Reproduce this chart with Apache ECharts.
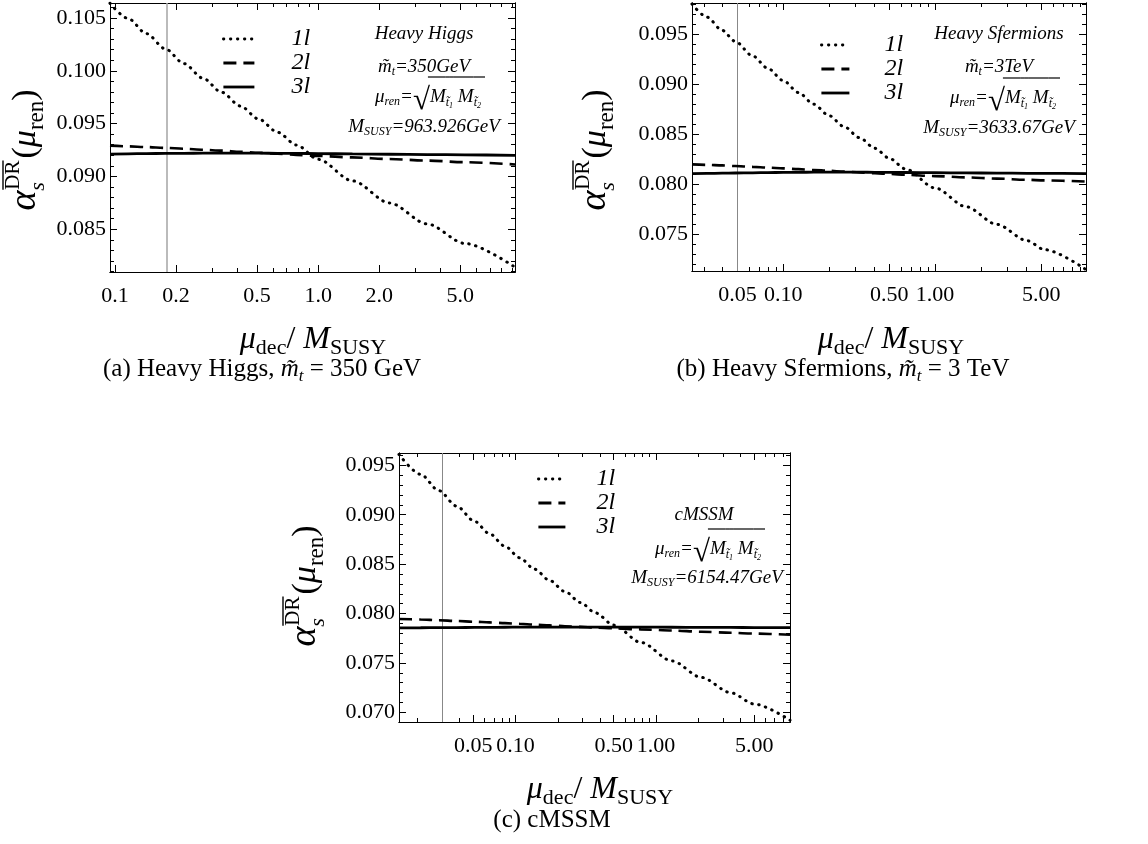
<!DOCTYPE html>
<html><head><meta charset="utf-8">
<script src="https://cdn.jsdelivr.net/npm/echarts@6/dist/echarts.min.js"></script>
<style>html,body{margin:0;padding:0;background:#fff}#c{width:1148px;height:844px}</style>
</head><body><div id="c"></div>
<script>
// ---------------- data ----------------
// (a) Heavy Higgs
const xA  = [0.0946, 0.116, 0.143, 0.177, 0.219, 0.271, 0.335, 0.414, 0.511, 0.632, 0.781, 1.0, 1.475, 2.25, 3.44, 5.26, 9.3];
const a1l = [0.1064, 0.10496, 0.10352, 0.10208, 0.10068, 0.0993, 0.09797, 0.09667, 0.09542, 0.09418, 0.09298, 0.09162, 0.08958, 0.08748, 0.0855, 0.08366, 0.0814];
const a2l = [0.09292, 0.09285, 0.09278, 0.0927, 0.09262, 0.09253, 0.09244, 0.09234, 0.09224, 0.09214, 0.09204, 0.09194, 0.0918, 0.09165, 0.0915, 0.09135, 0.09113];
const a3l = [0.09212, 0.09214, 0.09216, 0.09218, 0.09219, 0.0922, 0.0922, 0.0922, 0.0922, 0.09219, 0.09218, 0.09216, 0.09213, 0.0921, 0.09207, 0.09204, 0.092];
// (b) Heavy Sfermions
const xB  = [0.0251, 0.0315, 0.0397, 0.0482, 0.063, 0.0794, 0.1, 0.126, 0.159, 0.2, 0.252, 0.318, 0.401, 0.505, 0.636, 1.0, 1.6, 2.55, 4.04, 5.24, 9.85];
const b1l = [0.0980, 0.09669, 0.09537, 0.09428, 0.09282, 0.09157, 0.09036, 0.08917, 0.0880, 0.08687, 0.08576, 0.08466, 0.0836, 0.08256, 0.08155, 0.07964, 0.07777, 0.07601, 0.07438, 0.0735, 0.0715];
const b2l = [0.0820, 0.08195, 0.0819, 0.08183, 0.08175, 0.08168, 0.0816, 0.08152, 0.08144, 0.08136, 0.08128, 0.0812, 0.08112, 0.08104, 0.08096, 0.08083, 0.0807, 0.08058, 0.08046, 0.0804, 0.08028];
const b3l = [0.08108, 0.0811, 0.08112, 0.08114, 0.08116, 0.08118, 0.0812, 0.08121, 0.08122, 0.08122, 0.08122, 0.08122, 0.08121, 0.0812, 0.08119, 0.08117, 0.08115, 0.08113, 0.08111, 0.0811, 0.08108];
// (c) cMSSM
const xC  = [0.0148, 0.0211, 0.0284, 0.038, 0.051, 0.065, 0.084, 0.107, 0.137, 0.175, 0.225, 0.29, 0.37, 0.5, 0.78, 1.3, 2.1, 3.4, 5.0, 9.0];
const c1l = [0.0961, 0.09409, 0.09245, 0.09088, 0.08934, 0.0881, 0.08682, 0.08565, 0.08448, 0.08335, 0.08222, 0.08111, 0.08007, 0.07883, 0.07708, 0.0752, 0.07354, 0.07199, 0.07084, 0.0692];
const c2l = [0.07945, 0.0794, 0.07932, 0.07925, 0.07917, 0.0791, 0.07903, 0.07896, 0.07888, 0.0788, 0.07872, 0.07865, 0.07858, 0.0785, 0.0784, 0.07828, 0.07816, 0.07805, 0.07797, 0.07785];
const c3l = [0.07855, 0.07856, 0.07857, 0.07858, 0.07859, 0.0786, 0.07861, 0.07862, 0.07862, 0.07863, 0.07863, 0.07863, 0.07863, 0.07862, 0.07862, 0.07861, 0.0786, 0.07859, 0.07858, 0.07857];

// axis ranges, ticks and labels
const xRangeA = [0.0946, 9.3], xRangeB = [0.0251, 9.85], xRangeC = [0.0148, 9.0];
const yRangeA = [0.08095, 0.10642], yRangeB = [0.07136, 0.0981], yRangeC = [0.06902, 0.09625];
const xMajorA = [0.1, 0.2, 0.5, 1, 2, 5];
const xLabelsA = ['0.1', '0.2', '0.5', '1.0', '2.0', '5.0'];
const xMinorA = [0.3, 0.4, 0.6, 0.7, 0.8, 0.9, 3, 4, 6, 7, 8, 9];
const xMajorBC = [0.05, 0.1, 0.5, 1, 5];
const xLabelsBC = ['0.05', '0.10', '0.50', '1.00', '5.00'];
const xMinorBC = [0.02, 0.03, 0.04, 0.06, 0.07, 0.08, 0.09, 0.2, 0.3, 0.4, 0.6, 0.7, 0.8, 0.9, 2, 3, 4, 6, 7, 8, 9];
const yMajorA = [0.085, 0.09, 0.095, 0.1, 0.105];
const yMinorA = [0.081, 0.082, 0.083, 0.084, 0.086, 0.087, 0.088, 0.089, 0.091, 0.092, 0.093, 0.094, 0.096, 0.097, 0.098, 0.099, 0.101, 0.102, 0.103, 0.104, 0.106];
const yMajorB = [0.075, 0.08, 0.085, 0.09, 0.095];
const yMinorB = [0.072, 0.073, 0.074, 0.076, 0.077, 0.078, 0.079, 0.081, 0.082, 0.083, 0.084, 0.086, 0.087, 0.088, 0.089, 0.091, 0.092, 0.093, 0.094, 0.096, 0.097, 0.098];
const yMajorC = [0.07, 0.075, 0.08, 0.085, 0.09, 0.095];
const yMinorC = [0.071, 0.072, 0.073, 0.074, 0.076, 0.077, 0.078, 0.079, 0.081, 0.082, 0.083, 0.084, 0.086, 0.087, 0.088, 0.089, 0.091, 0.092, 0.093, 0.094, 0.096];
// top-mass reference lines (m_t / M_SUSY)
const vLines = [0.1816, 0.0482, 0.0284];
const seriesNames = ['1l', '2l', '3l'];

// ---------------- layout / style ----------------
const SERIF = '"Liberation Serif","Times New Roman",serif';
const TICK_FS = 22;
const panels = [
  {x: xA, ys: [a1l, a2l, a3l], xr: xRangeA, yr: yRangeA, xMaj: xMajorA, xLab: xLabelsA, xMin: xMinorA, yMaj: yMajorA, yMin: yMinorA,
   v: vLines[0], vColor: '#aaaaaa', vWidth: 1.6, grid: {left: 110, top: 3, width: 405, height: 269},
   leg: {left: 222, top: 27, iw: 31, pad: 32, lh: 21}},
  {x: xB, ys: [b1l, b2l, b3l], xr: xRangeB, yr: yRangeB, xMaj: xMajorBC, xLab: xLabelsBC, xMin: xMinorBC, yMaj: yMajorB, yMin: yMinorB,
   v: vLines[1], vColor: '#888888', vWidth: 1, grid: {left: 692, top: 3, width: 394, height: 268},
   leg: {left: 820, top: 33, iw: 28, pad: 30, lh: 21}},
  {x: xC, ys: [c1l, c2l, c3l], xr: xRangeC, yr: yRangeC, xMaj: xMajorBC, xLab: xLabelsBC, xMin: xMinorBC, yMaj: yMajorC, yMin: yMinorC,
   v: vLines[2], vColor: '#888888', vWidth: 1, grid: {left: 399, top: 453, width: 391, height: 269},
   leg: {left: 537, top: 467, iw: 27, pad: 26, lh: 22}}
];
const lineStyles = [
  {color: '#000', width: 3, type: [0.5, 6.5], cap: 'round'},
  {color: '#000', width: 2.6, type: [13, 7], cap: 'butt'},
  {color: '#000', width: 2.8, type: 'solid', cap: 'butt'}
];

const grids = [], xAxes = [], yAxes = [], series = [], legends = [];
const axisLineStyle = {show: true, lineStyle: {color: '#000', width: 1}};
function xAxisDef(p, gi, pos, ticks, len, labels) {
  return {type: 'log', logBase: 10, gridIndex: gi, position: pos, min: p.xr[0], max: p.xr[1],
    axisLine: axisLineStyle, splitLine: {show: false},
    axisTick: {show: true, inside: true, length: len, customValues: ticks, lineStyle: {color: '#000', width: 1}},
    axisLabel: labels ? {show: true, customValues: p.xMaj, margin: 13, color: '#000', fontFamily: SERIF, fontSize: TICK_FS,
      formatter: v => { const i = p.xMaj.findIndex(m => Math.abs(m - v) / m < 1e-6); return i >= 0 ? p.xLab[i] : ''; }} : {show: false}};
}
function yAxisDef(p, gi, pos, ticks, len, labels) {
  return {type: 'value', gridIndex: gi, position: pos, min: p.yr[0], max: p.yr[1], scale: true,
    axisLine: axisLineStyle, splitLine: {show: false},
    axisTick: {show: true, inside: true, length: len, customValues: ticks, lineStyle: {color: '#000', width: 1}},
    axisLabel: labels ? {show: true, customValues: p.yMaj, margin: 4, color: '#000', fontFamily: SERIF, fontSize: TICK_FS,
      formatter: v => v.toFixed(3)} : {show: false}};
}
panels.forEach((p, i) => {
  grids.push(Object.assign({containLabel: false}, p.grid));
  grids.push(Object.assign({containLabel: false}, p.grid));
  const g0 = 2 * i, g1 = 2 * i + 1;
  xAxes.push(xAxisDef(p, g0, 'bottom', p.xMaj, 7, true));
  xAxes.push(xAxisDef(p, g0, 'top', p.xMaj, 7, false));
  xAxes.push(xAxisDef(p, g1, 'bottom', p.xMin, 4, false));
  xAxes.push(xAxisDef(p, g1, 'top', p.xMin, 4, false));
  yAxes.push(yAxisDef(p, g0, 'left', p.yMaj, 7, true));
  yAxes.push(yAxisDef(p, g0, 'right', p.yMaj, 7, false));
  yAxes.push(yAxisDef(p, g1, 'left', p.yMin, 4, false));
  yAxes.push(yAxisDef(p, g1, 'right', p.yMin, 4, false));
  p.ys.forEach((ys, k) => {
    const s = {type: 'line', name: seriesNames[k], xAxisIndex: 4 * i, yAxisIndex: 4 * i,
      data: p.x.map((x, j) => [x, ys[j]]), symbol: 'none', smooth: 0.3, smoothMonotone: 'x',
      itemStyle: {color: '#000'}, lineStyle: lineStyles[k], z: 3 + k, silent: true};
    if (k === 2) {
      s.markLine = {silent: true, symbol: ['none', 'none'], label: {show: false},
        lineStyle: {color: p.vColor, width: p.vWidth, type: 'solid'}, data: [{xAxis: p.v}], z: 1};
    }
    series.push(s);
  });
  legends.push({left: p.leg.left, top: p.leg.top, orient: 'vertical', padding: 0, itemGap: 0,
    itemWidth: p.leg.iw, itemHeight: 10, selectedMode: false, data: seriesNames,
    itemStyle: {opacity: 0}, lineStyle: {width: 2.8},
    textStyle: {fontFamily: SERIF, fontStyle: 'italic', fontSize: 24, lineHeight: p.leg.lh, color: '#000', padding: [0, 0, 0, p.leg.pad]}});
});

// ---------------- text helpers ----------------
const mctx = document.createElement('canvas').getContext('2d');
function fstr(p) { return (p.it ? 'italic ' : '') + p.size + 'px ' + SERIF; }
// lay out a sequence of text pieces along a baseline; returns graphic group
function seq(pieces, x, y, opts) {
  opts = opts || {};
  let cx = 0, prevStart = 0, maxEnd = 0;
  const kids = [];
  pieces.forEach(p => {
    const f = fstr(p); mctx.font = f;
    const w = mctx.measureText(p.t).width;
    const start = p.stack ? prevStart : cx;
    const px = start + (p.dx || 0);
    const base = (p.dy || 0);
    kids.push({type: 'text', x: px, y: base - 0.34 * p.size,
      style: {text: p.t, font: f, fill: '#000', align: 'left', verticalAlign: 'middle', textAlign: 'left', textVerticalAlign: 'middle'}});
    if (p.over !== undefined) {
      kids.push({type: 'line', shape: {x1: px + (p.ox1 || 0), y1: p.over, x2: px + w + (p.ox2 || 0), y2: p.over},
        style: {stroke: '#000', lineWidth: p.ow || 1.2}});
    }
    prevStart = start;
    cx = Math.max(cx, px + w);
    maxEnd = Math.max(maxEnd, cx);
  });
  const off = opts.align === 'left' ? 0 : -maxEnd / 2;
  kids.forEach(k => { if (k.type === 'text') k.x += off; else { k.shape.x1 += off; k.shape.x2 += off; } });
  return {type: 'group', x: x, y: y, rotation: opts.rotation || 0, children: kids, silent: true};
}

const graphics = [];
// y-axis titles
function yTitle(cx, cy) {
  return seq([
    {t: 'α', it: true, size: 38},
    {t: 's', it: true, size: 22, dy: 8},
    {t: 'DR', size: 21, dy: -17, stack: true, dx: 1, over: -35, ow: 1.4},
    {t: '(', size: 34, dx: 2},
    {t: 'μ', it: true, size: 34},
    {t: 'ren', size: 23, dy: 7},
    {t: ')', size: 34}
  ], cx, cy, {rotation: Math.PI / 2});
}
graphics.push(yTitle(38, 150), yTitle(608, 150), yTitle(318, 586));
// x-axis titles
function xTitle(cx, by) {
  return seq([
    {t: 'μ', it: true, size: 32},
    {t: 'dec', size: 22, dy: 6},
    {t: '/ ', size: 32},
    {t: 'M', it: true, size: 32},
    {t: 'SUSY', size: 22, dy: 6}
  ], cx, by);
}
graphics.push(xTitle(313, 350), xTitle(891, 350), xTitle(600, 800));
// captions
graphics.push(seq([{t: '(a) Heavy Higgs, ', size: 25}, {t: 'm\u0303', it: true, size: 25}, {t: 't', it: true, size: 17, dy: 4}, {t: ' = 350 GeV', size: 25}], 262, 378));
graphics.push(seq([{t: '(b) Heavy Sfermions, ', size: 25}, {t: 'm\u0303', it: true, size: 25}, {t: 't', it: true, size: 17, dy: 4}, {t: ' = 3 TeV', size: 25}], 843, 378));
graphics.push(seq([{t: '(c) cMSSM', size: 25}], 552, 829));
// in-plot annotations
const AS = 19, As = 12;
function muRen(cx, by) {
  const ov = -26;
  return seq([
    {t: 'μ', it: true, size: AS},
    {t: 'ren', it: true, size: As, dy: 3},
    {t: '=', it: true, size: AS},
    {t: '√', size: 31, dy: 8},
    {t: 'M', it: true, size: AS, over: ov, ox1: -2},
    {t: 't\u0303', it: true, size: As, dy: 4, over: ov},
    {t: '1', it: true, size: 8, dy: 6, over: ov},
    {t: ' M', it: true, size: AS, over: ov},
    {t: 't\u0303', it: true, size: As, dy: 4, over: ov},
    {t: '2', it: true, size: 8, dy: 6, over: ov, ox2: 4}
  ], cx, by);
}
function mt(cx, by, val) {
  return seq([{t: 'm\u0303', it: true, size: AS}, {t: 't', it: true, size: As, dy: 3}, {t: '=' + val, it: true, size: AS}], cx, by);
}
function msusy(cx, by, val) {
  return seq([{t: 'M', it: true, size: AS}, {t: 'SUSY', it: true, size: As, dy: 3}, {t: '=' + val, it: true, size: AS}], cx, by);
}
graphics.push(seq([{t: 'Heavy Higgs', it: true, size: AS}], 424, 40));
graphics.push(mt(424, 73, '350GeV'));
graphics.push(muRen(428, 103));
graphics.push(msusy(424, 133, '963.926GeV'));
graphics.push(seq([{t: 'Heavy Sfermions', it: true, size: AS}], 999, 40));
graphics.push(mt(999, 73, '3TeV'));
graphics.push(muRen(1003, 104));
graphics.push(msusy(999, 134, '3633.67GeV'));
graphics.push(seq([{t: 'cMSSM', it: true, size: AS}], 704, 521));
graphics.push(muRen(708, 555));
graphics.push(msusy(707, 584, '6154.47GeV'));

const chart = echarts.init(document.getElementById('c'), null, {renderer: 'canvas'});
chart.setOption({
  animation: false,
  backgroundColor: '#fff',
  grid: grids, xAxis: xAxes, yAxis: yAxes, series: series, legend: legends,
  graphic: {elements: graphics}
});
</script>
</body></html>
